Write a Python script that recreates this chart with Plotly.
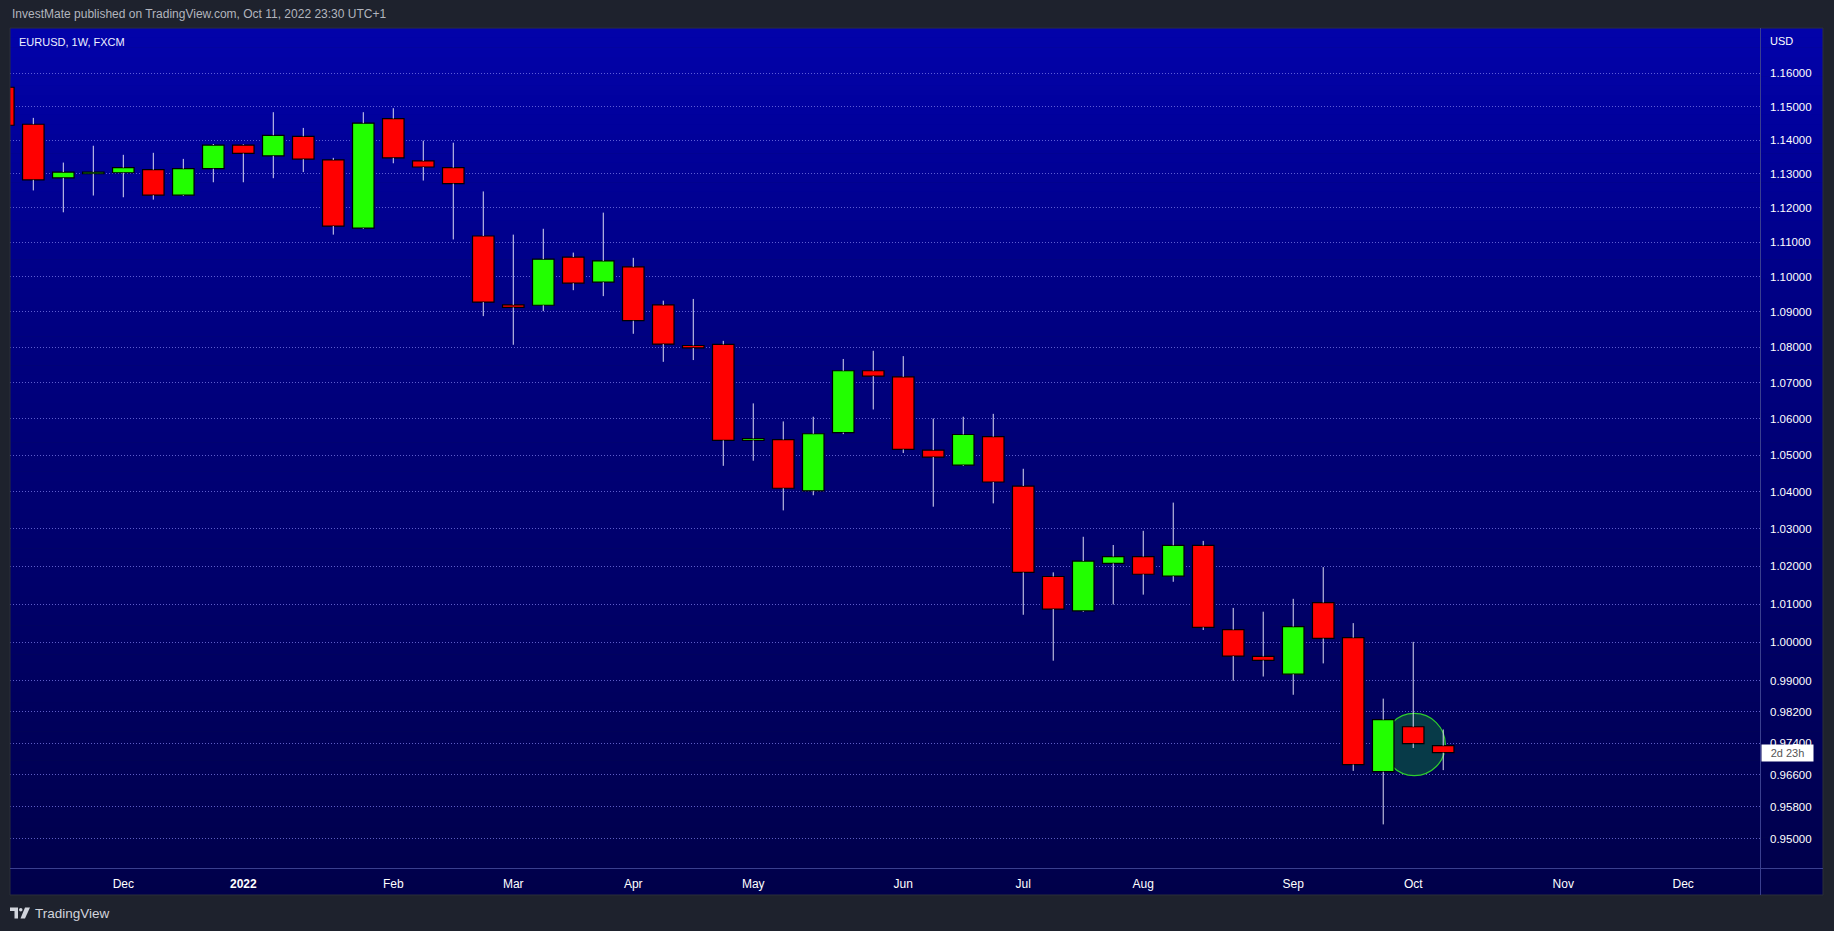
import math
from datetime import datetime, timedelta
import plotly.graph_objects as go

# ---------------- data (EURUSD weekly, FXCM) ----------------
week_start = [
    "2021-11-08", "2021-11-15", "2021-11-22", "2021-11-29", "2021-12-06", "2021-12-13",
    "2021-12-20", "2021-12-27", "2022-01-03", "2022-01-10", "2022-01-17", "2022-01-24",
    "2022-01-31", "2022-02-07", "2022-02-14", "2022-02-21", "2022-02-28", "2022-03-07",
    "2022-03-14", "2022-03-21", "2022-03-28", "2022-04-04", "2022-04-11", "2022-04-18",
    "2022-04-25", "2022-05-02", "2022-05-09", "2022-05-16", "2022-05-23", "2022-05-30",
    "2022-06-06", "2022-06-13", "2022-06-20", "2022-06-27", "2022-07-04", "2022-07-11",
    "2022-07-18", "2022-07-25", "2022-08-01", "2022-08-08", "2022-08-15", "2022-08-22",
    "2022-08-29", "2022-09-05", "2022-09-12", "2022-09-19", "2022-09-26", "2022-10-03",
    "2022-10-10",
]
open_price = [
    1.1558, 1.1447, 1.1288, 1.1300, 1.1303, 1.1312, 1.1237, 1.1315, 1.1385, 1.1353,
    1.1411, 1.1341, 1.1141, 1.1464, 1.1338, 1.1318, 1.1118, 1.0920, 1.0919, 1.1057,
    1.0985, 1.1029, 1.0920, 1.0805, 1.0808, 1.0541, 1.0543, 1.0403, 1.0562, 1.0734,
    1.0717, 1.0514, 1.0473, 1.0551, 1.0416, 1.0173, 1.0082, 1.0208, 1.0226, 1.0174,
    1.0256, 1.0033, 0.9963, 0.9917, 1.0104, 1.0012, 0.9668, 0.9782, 0.9734,
]
high_price = [
    1.1616, 1.1466, 1.1333, 1.1383, 1.1356, 1.1362, 1.1344, 1.1388, 1.1387, 1.1483,
    1.1436, 1.1347, 1.1483, 1.1495, 1.1398, 1.1392, 1.1248, 1.1122, 1.1139, 1.1070,
    1.1186, 1.1055, 1.0932, 1.0937, 1.0818, 1.0643, 1.0593, 1.0606, 1.0767, 1.0790,
    1.0775, 1.0601, 1.0606, 1.0614, 1.0463, 1.0184, 1.0279, 1.0257, 1.0295, 1.0371,
    1.0268, 1.0090, 1.0080, 1.0114, 1.0198, 1.0050, 0.9854, 1.0001, 0.9775,
]
low_price = [
    1.1433, 1.1251, 1.1187, 1.1236, 1.1231, 1.1224, 1.1235, 1.1275, 1.1275, 1.1287,
    1.1305, 1.1122, 1.1139, 1.1331, 1.1280, 1.1108, 1.0888, 1.0807, 1.0902, 1.0962,
    1.0945, 1.0838, 1.0759, 1.0764, 1.0471, 1.0485, 1.0350, 1.0391, 1.0558, 1.0626,
    1.0506, 1.0360, 1.0471, 1.0369, 1.0072, 0.9952, 1.0080, 1.0099, 1.0125, 1.0159,
    1.0032, 0.9900, 0.9911, 0.9864, 0.9945, 0.9670, 0.9536, 0.9728, 0.9672,
]
close_price = [
    1.1444, 1.1282, 1.1305, 1.1305, 1.1318, 1.1237, 1.1315, 1.1385, 1.1360, 1.1414,
    1.1343, 1.1147, 1.1450, 1.1347, 1.1320, 1.1271, 1.0928, 1.0913, 1.1051, 1.0982,
    1.1046, 1.0875, 1.0809, 1.0798, 1.0541, 1.0546, 1.0410, 1.0559, 1.0734, 1.0719,
    1.0516, 1.0495, 1.0557, 1.0427, 1.0184, 1.0087, 1.0214, 1.0226, 1.0179, 1.0256,
    1.0039, 0.9964, 0.9953, 1.0041, 1.0010, 0.9686, 0.9800, 0.9739, 0.9716,
]

month_tick_dates = ["2021-12-06", "2022-01-03", "2022-02-07", "2022-03-07", "2022-04-04",
                    "2022-05-02", "2022-06-06", "2022-07-04", "2022-08-01", "2022-09-05",
                    "2022-10-03", "2022-11-07", "2022-12-05"]
month_tick_labels = ["Dec", "<b>2022</b>", "Feb", "Mar", "Apr", "May", "Jun", "Jul", "Aug",
                     "Sep", "Oct", "Nov", "Dec"]
price_ticks = [1.16, 1.15, 1.14, 1.13, 1.12, 1.11, 1.10, 1.09, 1.08, 1.07, 1.06, 1.05,
               1.04, 1.03, 1.02, 1.01, 1.00, 0.99, 0.982, 0.974, 0.966, 0.958, 0.950]
price_tick_labels = ["%.5f" % v for v in price_ticks]

# ---------------- styling ----------------
UP = "#22ff00"
DOWN = "#ff0000"
WICK = "#dcdcf2"
OUTER_BG = "#1e222d"
GRID = "rgba(125,125,235,0.75)"
SEP = "#3a3f8f"
FONT = "Liberation Sans"

W_PX, H_PX = 1834, 931
PL, PR, PT, PB = 10, 1760, 28, 868
PW, PH = PR - PL, PB - PT


def px(x):
    return (x - PL) / PW


def py(y):
    return (PB - y) / PH


WEEK_MS = 7 * 24 * 3600 * 1000
body_w = WEEK_MS * 21.5 / 30.0

d0 = datetime.strptime(week_start[1], "%Y-%m-%d")
x_range = [d0 - timedelta(weeks=0.777), d0 + timedelta(weeks=57.56)]
y_range = [math.log10(0.94281), math.log10(1.1738)]

# ---------------- traces ----------------
bases, sizes, colors = [], [], []
wx, wy = [], []
for d, o, h, l, c in zip(week_start, open_price, high_price, low_price, close_price):
    top, bot = max(o, c), min(o, c)
    bases.append(bot)
    sizes.append(max(top - bot, 0.0004))
    colors.append(UP if c >= o else DOWN)
    wx += [d, d, None, d, d, None]
    wy += [h, top, None, bot, l, None]

fig = go.Figure()
fig.add_trace(go.Scatter(x=wx, y=wy, mode="lines", line=dict(color=WICK, width=1),
                         hoverinfo="skip", showlegend=False))
fig.add_trace(go.Bar(x=week_start, y=sizes, base=bases, width=body_w,
                     marker=dict(color=colors, line=dict(color="#000000", width=1.2)),
                     showlegend=False, hoverinfo="skip"))

# ---------------- background gradient ----------------
shapes = []
stops = [(28, (2, 2, 170)), (300, (0, 0, 132)), (600, (0, 0, 104)), (895, (0, 0, 74))]


def grad_color(y):
    for (y1, c1), (y2, c2) in zip(stops[:-1], stops[1:]):
        if y1 <= y <= y2:
            t = (y - y1) / (y2 - y1)
            return "rgb(%d,%d,%d)" % tuple(round(a + (b - a) * t) for a, b in zip(c1, c2))
    return "rgb(%d,%d,%d)" % stops[-1][1]


n_bands = 90
for i in range(n_bands):
    y_top = 28 + (895 - 28) * i / n_bands
    y_bot = 28 + (895 - 28) * (i + 1) / n_bands + 0.6
    shapes.append(dict(type="rect", xref="paper", yref="paper", layer="below",
                       x0=px(10), x1=px(1823), y0=py(min(y_bot, 895)), y1=py(y_top),
                       fillcolor=grad_color((y_top + y_bot) / 2), line=dict(width=0)))

# frame border and separators
shapes.append(dict(type="rect", xref="paper", yref="paper", layer="above",
                   x0=px(10), x1=px(1823), y0=py(895), y1=py(28),
                   line=dict(color="#2a2e39", width=1), fillcolor="rgba(0,0,0,0)"))
shapes.append(dict(type="line", xref="paper", yref="paper", layer="above",
                   x0=px(1760.5), x1=px(1760.5), y0=py(895), y1=py(28),
                   line=dict(color=SEP, width=1)))
shapes.append(dict(type="line", xref="paper", yref="paper", layer="above",
                   x0=px(10), x1=px(1823), y0=py(868.5), y1=py(868.5),
                   line=dict(color=SEP, width=1)))

# highlight circle around the Oct 3 candle
shapes.append(dict(type="circle", xref="x", yref="y", layer="between",
                   x0=week_start[46], x1=datetime.strptime(week_start[48], "%Y-%m-%d") + timedelta(hours=12),
                   y0=0.9658, y1=0.9816,
                   fillcolor="#073a48", line=dict(color="#2ecc2e", width=1.2)))

# TradingView logo glyph (bottom-left)
shapes.append(dict(type="path", xref="paper", yref="paper", layer="above",
                   path="M %f %f L %f %f L %f %f L %f %f L %f %f L %f %f Z" % (
                       px(10), py(907.5), px(18), py(907.5), px(18), py(918.5),
                       px(14.5), py(918.5), px(14.5), py(911), px(10), py(911)),
                   fillcolor="#d1d4dc", line=dict(width=0)))
shapes.append(dict(type="circle", xref="paper", yref="paper", layer="above",
                   x0=px(19), x1=px(22.5), y0=py(911.5), y1=py(908),
                   fillcolor="#d1d4dc", line=dict(width=0)))
shapes.append(dict(type="path", xref="paper", yref="paper", layer="above",
                   path="M %f %f L %f %f L %f %f L %f %f Z" % (
                       px(25), py(907.5), px(30), py(907.5), px(25), py(918.5),
                       px(20.5), py(918.5)),
                   fillcolor="#d1d4dc", line=dict(width=0)))

# ---------------- annotations ----------------
annotations = [
    dict(xref="paper", yref="paper", x=px(10), y=py(14), xanchor="left", yanchor="middle",
         text="InvestMate published on TradingView.com, Oct 11, 2022 23:30 UTC+1",
         showarrow=False, font=dict(family=FONT, size=12, color="#b2b5be")),
    dict(xref="paper", yref="paper", x=px(17), y=py(42), xanchor="left", yanchor="middle",
         text="EURUSD, 1W, FXCM", showarrow=False,
         font=dict(family=FONT, size=11, color="#eef0ff")),
    dict(xref="paper", yref="paper", x=px(1768), y=py(41), xanchor="left", yanchor="middle",
         text="USD", showarrow=False, font=dict(family=FONT, size=11, color="#ffffff")),
    dict(xref="paper", yref="y", x=px(1760.5), y=math.log10(close_price[-1]),
         xanchor="left", yanchor="middle", text="2d 23h", showarrow=False,
         bgcolor="#ffffff", width=51, height=16, borderpad=0, align="center",
         font=dict(family=FONT, size=11, color="#555555")),
    dict(xref="paper", yref="paper", x=px(33), y=py(913), xanchor="left", yanchor="middle",
         text="TradingView", showarrow=False,
         font=dict(family=FONT, size=13.5, color="#d1d4dc")),
]

fig.update_layout(
    width=W_PX, height=H_PX,
    margin=dict(l=PL, r=W_PX - PR, t=PT, b=H_PX - PB, pad=0),
    paper_bgcolor=OUTER_BG, plot_bgcolor="rgba(0,0,0,0)",
    showlegend=False, bargap=0, shapes=shapes, annotations=annotations,
    hovermode=False,
    xaxis=dict(type="date", range=x_range, tickvals=month_tick_dates, ticktext=month_tick_labels,
               showgrid=False, zeroline=False, showline=False, ticks="",
               ticklabelstandoff=7,
               tickfont=dict(family=FONT, size=12, color="#ffffff"), fixedrange=True),
    yaxis=dict(type="log", range=y_range, side="right", tickvals=price_ticks,
               ticktext=price_tick_labels, showgrid=True, gridcolor=GRID, gridwidth=1,
               griddash="1px,2px", zeroline=False, showline=False, ticks="",
               ticklabelstandoff=9,
               tickfont=dict(family=FONT, size=11.5, color="#ffffff"), fixedrange=True),
)

fig.write_html(
    "out.html",
    config={"displayModeBar": False, "staticPlot": True},
    post_script="document.body.style.margin='0';document.body.style.padding='0';"
                "document.body.style.overflow='hidden';"
                "document.body.style.background='#1e222d';",
)
